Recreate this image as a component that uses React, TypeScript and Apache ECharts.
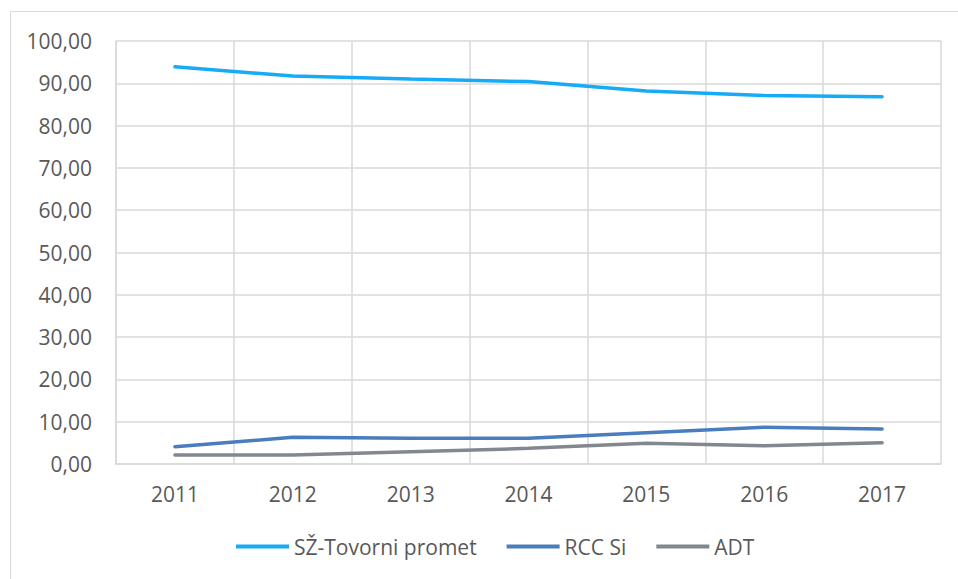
import React, { useEffect, useRef } from "react";
import * as echarts from "echarts";

const years = ["2011", "2012", "2013", "2014", "2015", "2016", "2017"];
const szTovorni = [93.9, 91.7, 91.0, 90.4, 88.2, 87.1, 86.8];
const rccSi = [4.1, 6.3, 6.1, 6.1, 7.4, 8.7, 8.3];
const adt = [2.1, 2.1, 2.9, 3.7, 4.9, 4.3, 5.0];
const seriesNames = ["SŽ-Tovorni promet", "RCC Si", "ADT"];
const colors = ["#16abf7", "#4a7dbd", "#838890"];

export default function App() {
  const ref = useRef<HTMLDivElement>(null);
  useEffect(() => {
    if (!ref.current) return;
    const chart = echarts.init(ref.current, null, { renderer: "svg" });
    const font = "'Open Sans', sans-serif";
    const dataSets = [szTovorni, rccSi, adt];
    chart.setOption({
      animation: false,
      backgroundColor: "#ffffff",
      textStyle: { fontFamily: font },
      graphic: [
        {
          type: "rect",
          shape: { x: 10.5, y: 11.5, width: 1000, height: 1000 },
          style: { fill: "none", stroke: "#d9d9d9", lineWidth: 1 },
          silent: true,
        },
      ],
      grid: { left: 116, top: 41, right: 17, bottom: 115, containLabel: false },
      legend: {
        bottom: 17,
        left: 231,
        itemWidth: 53,
        itemHeight: 4,
        itemGap: 30,
        icon: "rect",
        textStyle: { color: "#595959", fontSize: 21, fontFamily: font },
        data: seriesNames,
      },
      xAxis: {
        type: "category",
        data: years,
        boundaryGap: true,
        axisLine: { lineStyle: { color: "#d9d9d9", width: 1.5 } },
        axisTick: { show: false },
        axisLabel: { color: "#595959", fontSize: 21, margin: 19, fontFamily: font },
        splitLine: { show: true, interval: 0, lineStyle: { color: "#d9d9d9", width: 1.5 } },
      },
      yAxis: {
        type: "value",
        min: 0,
        max: 100,
        interval: 10,
        axisLine: { show: true, lineStyle: { color: "#d9d9d9", width: 1.5 } },
        axisTick: { show: false },
        axisLabel: {
          color: "#595959",
          fontSize: 21,
          margin: 24,
          fontFamily: font,
          formatter: (v: number) => v.toFixed(2).replace(".", ","),
        },
        splitLine: { lineStyle: { color: "#d9d9d9", width: 1.5 } },
      },
      series: dataSets.map((d, i) => ({
        name: seriesNames[i],
        type: "line",
        data: d,
        symbol: "none",
        smooth: false,
        itemStyle: { color: colors[i] },
        lineStyle: { color: colors[i], width: 3.5, cap: "round" },
      })),
    });
    return () => chart.dispose();
  }, []);
  return (
    <div
      ref={ref}
      style={{ position: "fixed", left: 0, top: 0, width: 958, height: 579 }}
    />
  );
}
